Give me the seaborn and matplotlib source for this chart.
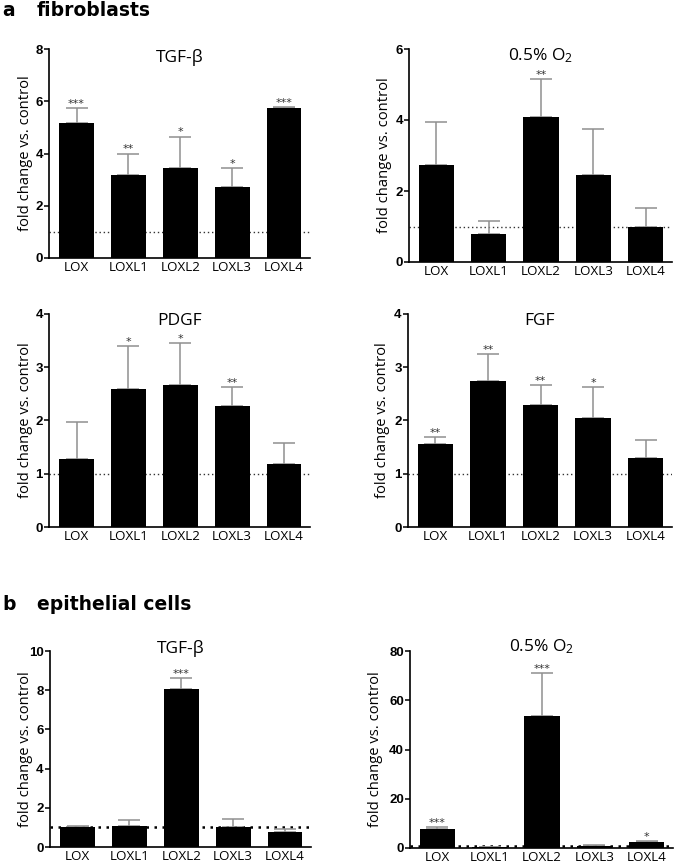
import numpy as np
import pandas as pd
import matplotlib
matplotlib.use("Agg")
import matplotlib.pyplot as plt
import seaborn as sns

sns.set_style("white")
plt.rcParams['font.family'] = ['Open Sans', 'DejaVu Sans']
plt.rcParams['mathtext.fontset'] = 'custom'
plt.rcParams['mathtext.rm'] = 'Open Sans'
plt.rcParams['mathtext.default'] = 'regular'
for k in ['text.color', 'axes.labelcolor', 'xtick.color', 'ytick.color']:
    plt.rcParams[k] = 'black'

genes = ["LOX", "LOXL1", "LOXL2", "LOXL3", "LOXL4"]

# fibroblasts
fib_tgf_mean = [5.16, 3.18, 3.46, 2.71, 5.74]
fib_tgf_err = [5.73, 4.00, 4.64, 3.44, 5.77]
fib_tgf_sig = ["***", "**", "*", "*", "***"]

fib_o2_mean = [2.72, 0.78, 4.08, 2.46, 1.00]
fib_o2_err = [3.93, 1.15, 5.16, 3.74, 1.51]
fib_o2_sig = ["", "", "**", "", ""]

fib_pdgf_mean = [1.28, 2.59, 2.66, 2.28, 1.19]
fib_pdgf_err = [1.97, 3.40, 3.45, 2.63, 1.57]
fib_pdgf_sig = ["", "*", "*", "**", ""]

fib_fgf_mean = [1.56, 2.75, 2.30, 2.04, 1.29]
fib_fgf_err = [1.69, 3.25, 2.66, 2.62, 1.63]
fib_fgf_sig = ["**", "**", "**", "*", ""]

# epithelial cells
epi_tgf_mean = [1.00, 1.09, 8.06, 1.04, 0.75]
epi_tgf_err = [1.09, 1.38, 8.62, 1.41, 0.90]
epi_tgf_sig = ["", "", "***", "", ""]

epi_o2_mean = [7.6, 0.5, 53.7, 0.95, 2.3]
epi_o2_err = [8.5, 0.6, 70.9, 1.1, 2.7]
epi_o2_sig = ["***", "", "***", "", "*"]

W, H = 675, 865
fig = plt.figure(figsize=(W / 100, H / 100), dpi=100)
PT = 0.72  # points per pixel


def px_axes(x0, y0, x1, y1):
    return fig.add_axes([x0 / W, 1 - y1 / H, (x1 - x0) / W, (y1 - y0) / H])


def panel(rect, mean, err, sig, title, ymax, step, xlim, title_drop, label_x,
          dotted_bold=False):
    ax = px_axes(*rect)
    df = pd.DataFrame({"gene": genes, "value": mean})
    sns.barplot(data=df, x="gene", y="value", color="black", width=0.67,
                saturation=1, ax=ax, zorder=3, errorbar=None)
    for p in ax.patches:
        p.set_linewidth(0)
    xs = np.arange(len(genes))
    up = np.array(err) - np.array(mean)
    ax.errorbar(xs, mean, yerr=[np.zeros(len(mean)), up], fmt="none",
                ecolor="#909090", elinewidth=1.1, capsize=8, capthick=1.1, zorder=2)
    if dotted_bold:
        ax.axhline(1, ls=(0, (1, 2.2)), color="black", lw=1.8, zorder=1)
    else:
        ax.axhline(1, ls=(0, (1, 2)), color="#333333", lw=1.0, zorder=1)
    for x, e, s in zip(xs, err, sig):
        if s:
            ax.annotate(s, xy=(x, e), xytext=(0, -0.5), textcoords="offset points",
                        ha="center", va="bottom", fontsize=8, color="#333333",
                        family=["DejaVu Sans"])
    ax.set_ylim(0, ymax)
    ax.set_xlim(*xlim)
    ticks = np.arange(0, ymax + step / 2, step)
    ax.set_yticks(ticks)
    ax.set_yticklabels([f"{int(v)}" for v in ticks],
                       fontweight="bold", family=["Liberation Sans"], fontsize=9.5)
    ax.tick_params(axis="y", length=3.5, width=1.1, pad=1, left=True, direction="out")
    ax.tick_params(axis="x", length=0, pad=2, labelsize=9.6)
    ax.set_xlabel("")
    ax.set_ylabel("fold change vs. control", fontsize=10.6)
    ax.yaxis.set_label_coords((label_x - rect[0]) / (rect[2] - rect[0]), 0.5)
    for s in ["top", "right"]:
        ax.spines[s].set_visible(False)
    for s in ["left", "bottom"]:
        ax.spines[s].set_color("black")
        ax.spines[s].set_linewidth(1.2)
    ax.annotate(title, xy=(0.5, 1.0), xycoords="axes fraction",
                xytext=(0, -title_drop * PT), textcoords="offset points",
                ha="center", va="baseline", fontsize=12.5)
    return ax


panel((49, 49, 310, 258), fib_tgf_mean, fib_tgf_err, fib_tgf_sig, "TGF-β", 8, 2, (-0.53, 4.5), 13, 33)
panel((409, 49, 672, 262), fib_o2_mean, fib_o2_err, fib_o2_sig, "0.5% O$_2$", 6, 2, (-0.52, 4.5), 11, 392)
panel((49, 314, 310, 527), fib_pdgf_mean, fib_pdgf_err, fib_pdgf_sig, "PDGF", 4, 1, (-0.53, 4.5), 11, 33)
panel((408, 314, 672, 527), fib_fgf_mean, fib_fgf_err, fib_fgf_sig, "FGF", 4, 1, (-0.52, 4.5), 11, 390)
panel((50, 651, 311, 847), epi_tgf_mean, epi_tgf_err, epi_tgf_sig, "TGF-β", 10, 2, (-0.53, 4.5), 2, 33,
      dotted_bold=True)
panel((410, 651, 673, 848), epi_o2_mean, epi_o2_err, epi_o2_sig, "0.5% O$_2$", 80, 20, (-0.52, 4.5), 0, 383,
      dotted_bold=True)

hfont = dict(fontsize=13.5, fontweight="bold", family=["DejaVu Sans"], va="baseline", color="black")
fig.text(2 / W, 1 - 16 / H, "a", **hfont)
fig.text(37 / W, 1 - 16 / H, "fibroblasts", **hfont)
fig.text(2 / W, 1 - 610 / H, "b", **hfont)
fig.text(37 / W, 1 - 610 / H, "epithelial cells", **hfont)

fig.savefig("out.png", dpi=100, facecolor="white")
